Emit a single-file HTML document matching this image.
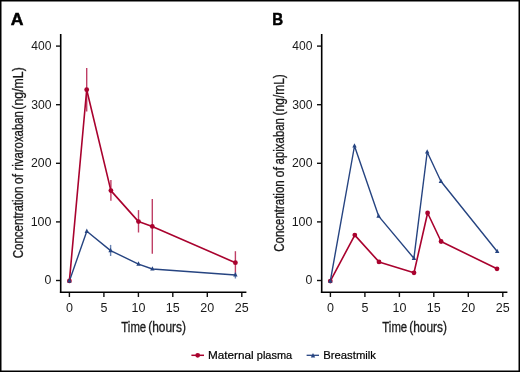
<!DOCTYPE html>
<html><head><meta charset="utf-8"><style>
html,body{margin:0;padding:0;background:#fff;}
svg{display:block;will-change:transform;}
text{font-family:"Liberation Sans", sans-serif;fill:#1a1a1a;}
.tk{font-size:12.5px;}
.ttl{font-size:14.2px;stroke:#1a1a1a;stroke-width:0.3px;}
.lg{font-size:11.4px;fill:#000;stroke:#000;stroke-width:0.2px;}
.lt{font-size:16.6px;font-weight:bold;fill:#000;stroke:#000;stroke-width:0.5px;}
</style></head><body>
<svg width="520" height="372" viewBox="0 0 520 372">
<rect x="0" y="0" width="520" height="372" fill="#fff"/>
<rect x="0.75" y="0.75" width="518.5" height="370.5" fill="none" stroke="#000" stroke-width="1.5"/>
<line x1="60.70" y1="34.0" x2="60.70" y2="293" stroke="#000" stroke-width="1.6"/>
<line x1="59.90" y1="292.2" x2="246.4" y2="292.2" stroke="#000" stroke-width="1.6"/>
<line x1="56" y1="280.5" x2="60" y2="280.5" stroke="#111" stroke-width="1.4"/>
<text x="44.52" y="284.3" class="tk" textLength="6.86" lengthAdjust="spacingAndGlyphs">0</text>
<line x1="56" y1="221.9" x2="60" y2="221.9" stroke="#111" stroke-width="1.4"/>
<text x="30.65" y="225.7" class="tk" textLength="20.84" lengthAdjust="spacingAndGlyphs">100</text>
<line x1="56" y1="163.3" x2="60" y2="163.3" stroke="#111" stroke-width="1.4"/>
<text x="30.98" y="167.1" class="tk" textLength="20.50" lengthAdjust="spacingAndGlyphs">200</text>
<line x1="56" y1="104.7" x2="60" y2="104.7" stroke="#111" stroke-width="1.4"/>
<text x="31.14" y="108.5" class="tk" textLength="20.34" lengthAdjust="spacingAndGlyphs">300</text>
<line x1="56" y1="46.1" x2="60" y2="46.1" stroke="#111" stroke-width="1.4"/>
<text x="31.32" y="49.9" class="tk" textLength="20.15" lengthAdjust="spacingAndGlyphs">400</text>
<line x1="69.4" y1="293" x2="69.4" y2="297" stroke="#111" stroke-width="1.4"/>
<text x="69.4" y="311.7" text-anchor="middle" class="tk">0</text>
<line x1="103.9" y1="293" x2="103.9" y2="297" stroke="#111" stroke-width="1.4"/>
<text x="103.9" y="311.7" text-anchor="middle" class="tk">5</text>
<line x1="138.4" y1="293" x2="138.4" y2="297" stroke="#111" stroke-width="1.4"/>
<text x="138.4" y="311.7" text-anchor="middle" class="tk">10</text>
<line x1="172.8" y1="293" x2="172.8" y2="297" stroke="#111" stroke-width="1.4"/>
<text x="172.8" y="311.7" text-anchor="middle" class="tk">15</text>
<line x1="207.3" y1="293" x2="207.3" y2="297" stroke="#111" stroke-width="1.4"/>
<text x="207.3" y="311.7" text-anchor="middle" class="tk">20</text>
<line x1="241.8" y1="293" x2="241.8" y2="297" stroke="#111" stroke-width="1.4"/>
<text x="241.8" y="311.7" text-anchor="middle" class="tk">25</text>
<text x="121.35" y="331.5" class="ttl" textLength="24.85" lengthAdjust="spacingAndGlyphs">Time</text>
<text x="148.26" y="331.5" class="ttl" textLength="37.78" lengthAdjust="spacingAndGlyphs">(hours)</text>
<text transform="translate(22.9,0) rotate(-90)" x="-258.28" y="0" class="ttl" textLength="71.63" lengthAdjust="spacingAndGlyphs">Concentration</text>
<text transform="translate(22.9,0) rotate(-90)" x="-183.90" y="0" class="ttl" textLength="9.99" lengthAdjust="spacingAndGlyphs">of</text>
<text transform="translate(22.9,0) rotate(-90)" x="-170.56" y="0" class="ttl" textLength="59.50" lengthAdjust="spacingAndGlyphs">rivaroxaban</text>
<text transform="translate(22.9,0) rotate(-90)" x="-109.66" y="0" class="ttl" textLength="42.43" lengthAdjust="spacingAndGlyphs">(ng/mL)</text>
<text x="10.71" y="24.6" class="lt" textLength="12.70" lengthAdjust="spacingAndGlyphs">A</text>
<line x1="86.7" y1="68.1" x2="86.7" y2="111.4" stroke="#bf3f66" stroke-width="1.4"/>
<line x1="110.9" y1="180.1" x2="110.9" y2="200.7" stroke="#bf3f66" stroke-width="1.4"/>
<line x1="138.5" y1="210.1" x2="138.5" y2="232.5" stroke="#bf3f66" stroke-width="1.4"/>
<line x1="152.3" y1="199.1" x2="152.3" y2="253.8" stroke="#bf3f66" stroke-width="1.4"/>
<line x1="235.4" y1="251.2" x2="235.4" y2="274.4" stroke="#bf3f66" stroke-width="1.4"/>
<line x1="110.6" y1="244.9" x2="110.6" y2="256.0" stroke="#6a84b3" stroke-width="1.4"/>
<line x1="235.4" y1="272.5" x2="235.4" y2="278.5" stroke="#6a84b3" stroke-width="1.4"/>
<polyline points="69.4,280.9 86.7,89.7 110.9,190.6 138.5,221.6 152.3,226.4 235.4,262.7" fill="none" stroke="#a9022e" stroke-width="1.6" stroke-linejoin="round"/>
<polyline points="69.4,280.9 86.8,231.3 110.6,250.6 138.5,264.1 152.4,269.0 235.4,275.0" fill="none" stroke="#264481" stroke-width="1.4" stroke-linejoin="round"/>
<circle cx="69.4" cy="280.9" r="2.4" fill="#a9022e"/>
<circle cx="86.7" cy="89.7" r="2.4" fill="#a9022e"/>
<circle cx="110.9" cy="190.6" r="2.4" fill="#a9022e"/>
<circle cx="138.5" cy="221.6" r="2.4" fill="#a9022e"/>
<circle cx="152.3" cy="226.4" r="2.4" fill="#a9022e"/>
<circle cx="235.4" cy="262.7" r="2.4" fill="#a9022e"/>
<path d="M69.4 278.1 L71.6 282.5 L67.2 282.5Z" fill="#264481"/>
<path d="M86.8 228.5 L89.0 232.9 L84.6 232.9Z" fill="#264481"/>
<path d="M110.6 247.8 L112.8 252.2 L108.4 252.2Z" fill="#264481"/>
<path d="M138.5 261.3 L140.7 265.7 L136.3 265.7Z" fill="#264481"/>
<path d="M152.4 266.2 L154.6 270.6 L150.2 270.6Z" fill="#264481"/>
<path d="M235.4 272.2 L237.6 276.6 L233.2 276.6Z" fill="#264481"/>
<line x1="321.70" y1="34.0" x2="321.70" y2="293" stroke="#000" stroke-width="1.6"/>
<line x1="320.90" y1="292.2" x2="507.4" y2="292.2" stroke="#000" stroke-width="1.6"/>
<line x1="317.0" y1="280.5" x2="321.0" y2="280.5" stroke="#111" stroke-width="1.4"/>
<text x="305.52" y="284.3" class="tk" textLength="6.86" lengthAdjust="spacingAndGlyphs">0</text>
<line x1="317.0" y1="221.9" x2="321.0" y2="221.9" stroke="#111" stroke-width="1.4"/>
<text x="291.65" y="225.7" class="tk" textLength="20.84" lengthAdjust="spacingAndGlyphs">100</text>
<line x1="317.0" y1="163.3" x2="321.0" y2="163.3" stroke="#111" stroke-width="1.4"/>
<text x="291.98" y="167.1" class="tk" textLength="20.50" lengthAdjust="spacingAndGlyphs">200</text>
<line x1="317.0" y1="104.7" x2="321.0" y2="104.7" stroke="#111" stroke-width="1.4"/>
<text x="292.14" y="108.5" class="tk" textLength="20.34" lengthAdjust="spacingAndGlyphs">300</text>
<line x1="317.0" y1="46.1" x2="321.0" y2="46.1" stroke="#111" stroke-width="1.4"/>
<text x="292.32" y="49.9" class="tk" textLength="20.15" lengthAdjust="spacingAndGlyphs">400</text>
<line x1="330.4" y1="293" x2="330.4" y2="297" stroke="#111" stroke-width="1.4"/>
<text x="330.4" y="311.7" text-anchor="middle" class="tk">0</text>
<line x1="364.9" y1="293" x2="364.9" y2="297" stroke="#111" stroke-width="1.4"/>
<text x="364.9" y="311.7" text-anchor="middle" class="tk">5</text>
<line x1="399.4" y1="293" x2="399.4" y2="297" stroke="#111" stroke-width="1.4"/>
<text x="399.4" y="311.7" text-anchor="middle" class="tk">10</text>
<line x1="433.8" y1="293" x2="433.8" y2="297" stroke="#111" stroke-width="1.4"/>
<text x="433.8" y="311.7" text-anchor="middle" class="tk">15</text>
<line x1="468.3" y1="293" x2="468.3" y2="297" stroke="#111" stroke-width="1.4"/>
<text x="468.3" y="311.7" text-anchor="middle" class="tk">20</text>
<line x1="502.8" y1="293" x2="502.8" y2="297" stroke="#111" stroke-width="1.4"/>
<text x="502.8" y="311.7" text-anchor="middle" class="tk">25</text>
<text x="382.35" y="331.5" class="ttl" textLength="24.85" lengthAdjust="spacingAndGlyphs">Time</text>
<text x="409.26" y="331.5" class="ttl" textLength="37.78" lengthAdjust="spacingAndGlyphs">(hours)</text>
<text transform="translate(283.9,0) rotate(-90)" x="-251.68" y="0" class="ttl" textLength="71.33" lengthAdjust="spacingAndGlyphs">Concentration</text>
<text transform="translate(283.9,0) rotate(-90)" x="-177.43" y="0" class="ttl" textLength="10.51" lengthAdjust="spacingAndGlyphs">of</text>
<text transform="translate(283.9,0) rotate(-90)" x="-164.38" y="0" class="ttl" textLength="46.33" lengthAdjust="spacingAndGlyphs">apixaban</text>
<text transform="translate(283.9,0) rotate(-90)" x="-115.44" y="0" class="ttl" textLength="41.29" lengthAdjust="spacingAndGlyphs">(ng/mL)</text>
<text x="272.24" y="24.6" class="lt" textLength="10.89" lengthAdjust="spacingAndGlyphs">B</text>
<polyline points="330.3,281.1 354.8,235.1 379.0,261.9 414.0,272.8 427.6,213.0 441.1,241.5 497.0,268.8" fill="none" stroke="#a9022e" stroke-width="1.6" stroke-linejoin="round"/>
<polyline points="330.3,281.1 354.5,146.0 378.6,216.1 413.9,258.3 427.2,152.0 440.9,181.3 497.2,251.5" fill="none" stroke="#264481" stroke-width="1.4" stroke-linejoin="round"/>
<circle cx="330.3" cy="281.1" r="2.4" fill="#a9022e"/>
<circle cx="354.8" cy="235.1" r="2.4" fill="#a9022e"/>
<circle cx="379.0" cy="261.9" r="2.4" fill="#a9022e"/>
<circle cx="414.0" cy="272.8" r="2.4" fill="#a9022e"/>
<circle cx="427.6" cy="213.0" r="2.4" fill="#a9022e"/>
<circle cx="441.1" cy="241.5" r="2.4" fill="#a9022e"/>
<circle cx="497.0" cy="268.8" r="2.4" fill="#a9022e"/>
<path d="M330.3 278.3 L332.5 282.7 L328.1 282.7Z" fill="#264481"/>
<path d="M354.5 143.2 L356.7 147.6 L352.3 147.6Z" fill="#264481"/>
<path d="M378.6 213.3 L380.8 217.7 L376.4 217.7Z" fill="#264481"/>
<path d="M413.9 255.5 L416.1 259.9 L411.7 259.9Z" fill="#264481"/>
<path d="M427.2 149.2 L429.4 153.6 L425.0 153.6Z" fill="#264481"/>
<path d="M440.9 178.5 L443.1 182.9 L438.7 182.9Z" fill="#264481"/>
<path d="M497.2 248.7 L499.4 253.1 L495.0 253.1Z" fill="#264481"/>

<line x1="191.4" y1="355.3" x2="204" y2="355.3" stroke="#a9022e" stroke-width="1.5"/>
<circle cx="197.7" cy="355.3" r="2.4" fill="#a9022e"/>
<text x="207.94" y="358.7" class="lg" textLength="45.75" lengthAdjust="spacingAndGlyphs">Maternal</text>
<text x="256.79" y="358.7" class="lg" textLength="35.41" lengthAdjust="spacingAndGlyphs">plasma</text>
<line x1="306.6" y1="355.3" x2="319" y2="355.3" stroke="#264481" stroke-width="1.3"/>
<path d="M313 352.9 L315.2 357.4 L310.8 357.4Z" fill="#264481"/>
<text x="323.27" y="358.7" class="lg" textLength="52.71" lengthAdjust="spacingAndGlyphs">Breastmilk</text>

</svg>
</body></html>
